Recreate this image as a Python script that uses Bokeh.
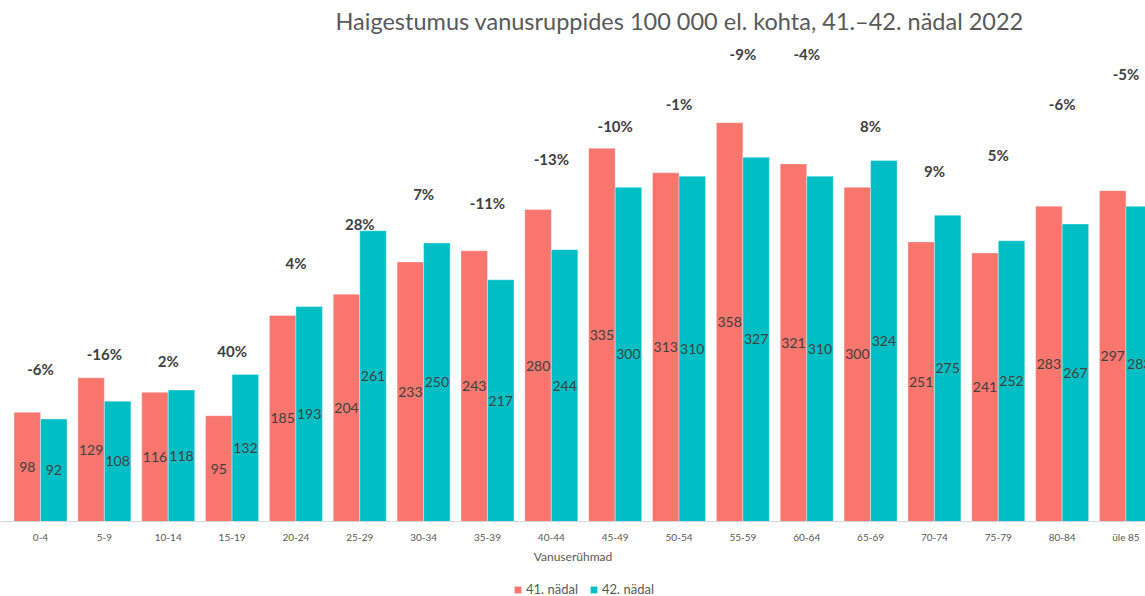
from bokeh.plotting import figure
from bokeh.models import ColumnDataSource, Range1d, Legend, LegendItem, FixedTicker
from bokeh.core.properties import value
from bokeh.embed import file_html
from bokeh.resources import INLINE

# ---- data ----
categories = ["0-4", "5-9", "10-14", "15-19", "20-24", "25-29", "30-34", "35-39", "40-44",
              "45-49", "50-54", "55-59", "60-64", "65-69", "70-74", "75-79", "80-84", "üle 85"]
week41 = [98, 129, 116, 95, 185, 204, 233, 243, 280, 335, 313, 358, 321, 300, 251, 241, 283, 297]
week42 = [92, 108, 118, 132, 193, 261, 250, 217, 244, 300, 310, 327, 310, 324, 275, 252, 267, 283]
change_pct = [-6, -16, 2, 40, 4, 28, 7, -11, -13, -10, -1, -9, -4, 8, 9, 5, -6, -5]
# level (in incidence units) of the hidden series that carries the change labels
change_label_level = [137, 150, 144, 153, 232, 267, 294, 286, 325, 355, 375, 420, 420, 355, 315, 329, 375, 402]
series_names = ["41. nädal", "42. nädal"]
title_text = "Haigestumus vanusruppides 100 000 el. kohta, 41.–42. nädal 2022"
x_title = "Vanuserühmad"

# ---- style ----
FONT = "Lato"
C41 = "#F8766D"
C42 = "#00BFC4"
W, H = 1145, 596
TOP = 41            # px reserved for the title
BASE = 521          # px from top where the value axis is zero
PX_PER_UNIT = 1.114
PX_PER_CAT = 63.85
LEFT_PAD = 8.1
BAR_W = 0.415

idx = list(range(len(categories)))
src = ColumnDataSource(dict(
    x41=[i - BAR_W / 2 for i in idx],
    x42=[i + BAR_W / 2 for i in idx],
    v41=week41,
    v42=week42,
    m41=[v / 2 for v in week41],
    m42=[v / 2 for v in week42],
    t41=[str(v) for v in week41],
    t42=[str(v) for v in week42],
))
psrc = ColumnDataSource(dict(
    x=idx,
    y=change_label_level,
    t=[f"{v}%" for v in change_pct],
))

x0 = -0.5 - LEFT_PAD / PX_PER_CAT
y0 = -(H - BASE) / PX_PER_UNIT
y1 = (BASE - TOP) / PX_PER_UNIT
p = figure(width=W, height=H, output_backend="svg", toolbar_location=None,
           x_range=Range1d(x0, x0 + W / PX_PER_CAT), y_range=Range1d(y0, y1),
           y_axis_location=None,
           min_border_left=0, min_border_right=0, min_border_top=TOP, min_border_bottom=0,
           title=title_text)

p.title.align = "left"
p.title.offset = 335
p.title.vertical_align = "top"
p.title.text_font = FONT
p.title.text_font_size = "23.5px"
p.title.text_font_style = "normal"
p.title.text_color = "#595959"
p.title.standoff = 10

p.outline_line_color = None
p.xgrid.visible = False
p.ygrid.visible = False

r41 = p.vbar(x="x41", top="v41", bottom=0, width=BAR_W, source=src, fill_color=C41,
             line_color="white", line_alpha=0.35, line_width=1)
r42 = p.vbar(x="x42", top="v42", bottom=0, width=BAR_W, source=src, fill_color=C42,
             line_color="white", line_alpha=0.35, line_width=1)

p.text(x="x41", y="m41", text="t41", source=src, text_align="center", text_baseline="middle",
       text_font=value(FONT), text_font_size="14px", text_color="#404040")
p.text(x="x42", y="m42", text="t42", source=src, text_align="center", text_baseline="middle",
       text_font=value(FONT), text_font_size="14px", text_color="#404040")
p.text(x="x", y="y", text="t", source=psrc, text_align="center", text_baseline="middle",
       text_font=value(FONT), text_font_size="15px", text_font_style="bold", text_color="#404040")

ax = p.xaxis[0]
ax.fixed_location = 0
ax.ticker = FixedTicker(ticks=idx)
ax.major_label_overrides = {i: c for i, c in enumerate(categories)}
ax.major_tick_in = 0
ax.major_tick_out = 0
ax.minor_tick_in = 0
ax.minor_tick_out = 0
ax.axis_line_color = "#D9D9D9"
ax.major_label_standoff = 9
ax.major_label_text_font = FONT
ax.major_label_text_font_size = "10px"
ax.major_label_text_color = "#595959"
ax.axis_label = x_title
ax.axis_label_standoff = 3
ax.axis_label_text_font = FONT
ax.axis_label_text_font_size = "12px"
ax.axis_label_text_font_style = "normal"
ax.axis_label_text_color = "#595959"

legend = Legend(items=[LegendItem(label=series_names[0], renderers=[r41]),
                       LegendItem(label=series_names[1], renderers=[r42])],
                orientation="horizontal", location=(513, -1),
                glyph_width=9, glyph_height=9, label_height=14, label_standoff=4, spacing=11,
                padding=0, margin=0, border_line_color=None, background_fill_alpha=0,
                label_text_font=FONT, label_text_font_size="13px", label_text_color="#595959")
p.add_layout(legend)

open("out.html", "w").write(file_html(p, INLINE))
